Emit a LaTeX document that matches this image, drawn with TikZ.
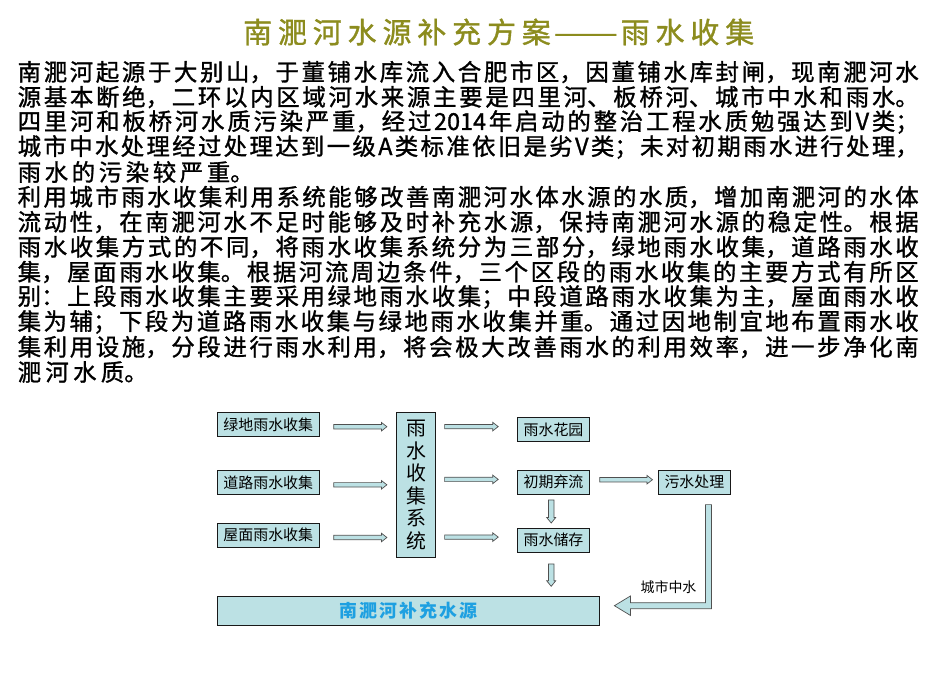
\documentclass[tikz,border=0pt]{standalone}
\usepackage{fontspec}
\usepackage{graphicx}
\setmainfont{Noto Sans CJK SC}
\newfontfamily\blfont[LetterSpace=11]{Noto Sans CJK SC}
\newfontfamily\bodyfont[FakeBold=1.2]{Noto Sans CJK SC}
\newfontfamily\titlefont[FakeBold=1.2]{Noto Sans CJK SC}
\XeTeXlinebreaklocale "zh"
\XeTeXlinebreakskip=0pt plus 1fil
\usetikzlibrary{calc}
\definecolor{boxfill}{RGB}{188,225,228}
\definecolor{olivet}{RGB}{140,140,30}
\definecolor{bluet}{RGB}{30,160,225}
\definecolor{arrline}{RGB}{80,80,80}
\tikzset{
  box/.style={draw=black!90, line width=0.8bp, fill=boxfill, inner sep=0pt, font=\fontsize{15}{18}\selectfont},
  smallbox/.style={box, minimum width=72.4bp, minimum height=24bp},
  leftbox/.style={box, minimum width=102bp, minimum height=23.5bp},
  barrow/.style={draw=arrline, line width=0.7bp, fill=boxfill, line join=miter},
  bodyline/.style={anchor=west, inner sep=0pt, text width=#1, align=justify, font=\bodyfont\fontsize{23.5}{25}\selectfont},
  bodyline/.default=901bp,
}
\newcommand\jline[1]{\parfillskip=0pt\relax #1\par}
\newcommand\hbarrow[5]{\draw[barrow] let \p1=(#1), \p2=(#2) in (\x1,\y1-#3) -- (\x2-#5,\y1-#3) -- (\x2-#5,\y1-#4) -- (\x2,\y1) -- (\x2-#5,\y1+#4) -- (\x2-#5,\y1+#3) -- (\x1,\y1+#3) -- cycle;}
\newcommand\vbarrow[5]{\draw[barrow] let \p1=(#1), \p2=(#2) in (\x1-#3,\y1) -- (\x1-#3,\y2+#5) -- (\x1-#4,\y2+#5) -- (\x1,\y2) -- (\x1+#4,\y2+#5) -- (\x1+#3,\y2+#5) -- (\x1+#3,\y1) -- cycle;}
\begin{document}
\begin{tikzpicture}[x=1bp,y=-1bp]
\useasboundingbox (0,0) rectangle (944,676);
\fill[white] (0,0) rectangle (944,676);

% title
\node[anchor=west, inner sep=0pt, text width=511bp, align=justify, text=olivet, font=\titlefont\fontsize{29}{32}\selectfont] (title) at (243,32)
  {\jline{南淝河水源补充方案\hspace{3bp}\resizebox{64bp}{\height}{——}\hspace{3bp}雨水收集}};

% body text
\node[bodyline] (t1) at (17.5,72) {\jline{南淝河起源于大别山，于董铺水库流入合肥市区，因董铺水库封闸，现南淝河水}};
\node[bodyline] (t2) at (17.5,97) {\jline{源基本断绝，二环以内区域河水来源主要是四里河、板桥河、城市中水和雨水。}};
\node[bodyline] (t3) at (17.5,122) {\jline{四里河和板桥河水质污染严重，经过2014年启动的整治工程水质勉强达到V类；}};
\node[bodyline] (t4) at (17.5,147) {\jline{城市中水处理经过处理达到一级A类标准依旧是劣V类；未对初期雨水进行处理，}};
\node[bodyline=236bp] (t5) at (17.5,172) {\jline{雨水的污染较严重。}};
\node[bodyline] (t6) at (17.5,197) {\jline{利用城市雨水收集利用系统能够改善南淝河水体水源的水质，增加南淝河的水体}};
\node[bodyline] (t7) at (17.5,222) {\jline{流动性，在南淝河水不足时能够及时补充水源，保持南淝河水源的稳定性。根据}};
\node[bodyline] (t8) at (17.5,247) {\jline{雨水收集方式的不同，将雨水收集系统分为三部分，绿地雨水收集，道路雨水收}};
\node[bodyline] (t9) at (17.5,272) {\jline{集，屋面雨水收集。根据河流周边条件，三个区段的雨水收集的主要方式有所区}};
\node[bodyline] (t10) at (17.5,297) {\jline{别：上段雨水收集主要采用绿地雨水收集；中段道路雨水收集为主，屋面雨水收}};
\node[bodyline] (t11) at (17.5,322) {\jline{集为辅；下段为道路雨水收集与绿地雨水收集并重。通过因地制宜地布置雨水收}};
\node[bodyline] (t12) at (17.5,347) {\jline{集利用设施，分段进行雨水利用，将会极大改善雨水的利用效率，进一步净化南}};
\node[bodyline=130bp] (t13) at (17.5,372) {\jline{淝河水质。}};

% diagram boxes
\node[leftbox] (g1) at (268.3,424.4) {绿地雨水收集};
\node[leftbox] (g2) at (268.3,482.5) {道路雨水收集};
\node[leftbox] (g3) at (268.3,535.2) {屋面雨水收集};
\node[box, minimum width=38.6bp, minimum height=144.6bp, align=center, font=\fontsize{20}{22.7}\selectfont] (sys) at (416,485) {雨\\水\\收\\集\\系\\统};
\node[smallbox] (r1) at (553.5,429.4) {雨水花园};
\node[smallbox] (r2) at (553.5,482.2) {初期弃流};
\node[smallbox] (r3) at (553.5,539.9) {雨水储存};
\node[smallbox, minimum width=72.7bp] (ws) at (694.4,482.2) {污水处理};
\node[box, minimum width=382bp, minimum height=29bp, text=bluet, font=\blfont\bfseries\fontsize{18}{20}\selectfont] (bot) at (408.3,610.5) {南淝河补充水源};

% arrows into the system
\hbarrow{$(g1.east)+(14,2.3)$}{$(sys.west |- g1.east)+(-9.4,2.3)$}{2.2bp}{4.3bp}{5.5bp}
\hbarrow{$(g2.east)+(14,2.3)$}{$(sys.west |- g2.east)+(-9.4,2.3)$}{2.2bp}{4.3bp}{5.5bp}
\hbarrow{$(g3.east)+(14,2.3)$}{$(sys.west |- g3.east)+(-9.4,2.3)$}{2.2bp}{4.3bp}{5.5bp}
% arrows out of the system
\hbarrow{$(sys.east |- r1.west)+(8.9,-2.8)$}{$(r1.west)+(-18.7,-2.8)$}{2.2bp}{4.3bp}{5.5bp}
\hbarrow{$(sys.east |- r2.west)+(8.9,-2.8)$}{$(r2.west)+(-18.7,-2.8)$}{2.2bp}{4.3bp}{5.5bp}
\hbarrow{$(sys.east |- r3.west)+(8.9,-2.8)$}{$(r3.west)+(-18.7,-2.8)$}{2.2bp}{4.3bp}{5.5bp}
% first flush to sewage treatment
\hbarrow{$(r2.east)+(9.6,-2.5)$}{$(ws.west)+(-5.2,-2.5)$}{2.2bp}{4.3bp}{5.5bp}
% vertical arrows
\vbarrow{$(r2.south)+(-2.3,5.3)$}{$(r3.north)+(-2.3,-4.5)$}{2.8bp}{4.5bp}{5.5bp}
\vbarrow{$(r3.south)+(-2.3,11.6)$}{$(r3.south |- bot.north)+(-2.3,-9.3)$}{2.8bp}{4.5bp}{5.5bp}

% L-shaped reclaimed water arrow
\coordinate (lstart) at ($(ws.south east)+(-22.7,10)$);
\coordinate (ltip) at ($(bot.east)+(14.7,-4.8)$);
\draw[barrow] let \p1=(lstart), \p2=(ltip) in
  (\x1-3bp,\y1) -- (\x1+3bp,\y1) -- (\x1+3bp,\y2-3bp) -- (\x2+16bp,\y2-3bp)
  -- (\x2+16bp,\y2-9.7bp) -- (\x2,\y2) -- (\x2+16bp,\y2+9.7bp) -- (\x2+16bp,\y2+3bp)
  -- (\x1-3bp,\y2+3bp) -- cycle;
\node[inner sep=0pt, font=\fontsize{14}{16}\selectfont] (lbl) at (668.5,587) {城市中水};
\end{tikzpicture}
\end{document}
